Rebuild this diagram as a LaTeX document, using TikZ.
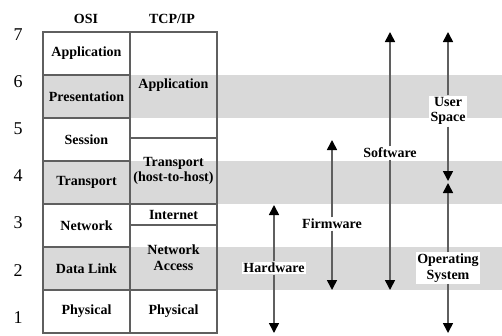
\documentclass[tikz,border=0pt]{standalone}
\usepackage{fontspec}
\setmainfont{Liberation Serif}
\usetikzlibrary{arrows.meta,positioning}
\definecolor{bandgray}{RGB}{217,217,217}
\definecolor{rulegray}{RGB}{95,95,95}

\begin{document}
\begin{tikzpicture}[x=1pt,y=-1pt,
	layer/.style={draw=rulegray,line width=1.5pt,minimum width=87pt,inner sep=0pt,
		align=center,font=\fontsize{14}{15.5}\selectfont\bfseries},
	tag/.style={fill=white,inner sep=1.5pt,align=center,
		font=\fontsize{14}{15.5}\selectfont\bfseries},
	span/.style={draw=rulegray,line width=1.6pt,
		-{Triangle[width=10pt,length=10pt,color=black]}}]

\useasboundingbox (0,0) rectangle (502,335);

% shaded rows 2, 4 and 6
\foreach \y in {75,161,247}
	\fill[bandgray] (43,\y) rectangle (502,\y+43);

\node[font=\fontsize{14}{15.5}\selectfont\bfseries] (osihead) at (86,19) {OSI};
\node[font=\fontsize{14}{15.5}\selectfont\bfseries] (tcphead) at (172,19) {TCP/IP};

\node[layer,minimum height=43pt]	(osi7) at (86.5,53.5)	{Application};
\node[layer,minimum height=43pt]	(osi6) at (86.5,96.5)	{Presentation};
\node[layer,minimum height=43pt]	(osi5) at (86.5,139.5)	{Session};
\node[layer,minimum height=43pt]	(osi4) at (86.5,182.5)	{Transport};
\node[layer,minimum height=43pt]	(osi3) at (86.5,225.5)	{Network};
\node[layer,minimum height=43pt]	(osi2) at (86.5,268.5)	{Data Link};
\node[layer,minimum height=43pt]	(osi1) at (86.5,311.5)	{Physical};

\node[layer,minimum height=106pt]	(tcpapp) at (173.5,85)		{Application};
\node[layer,minimum height=66pt]	(tcptrans) at (173.5,171)	{Transport\\(host-to-host)};
\node[layer,minimum height=21pt]	(tcpnet) at (173.5,214.5)	{Internet};
\node[layer,minimum height=65pt]	(tcpacc) at (173.5,257.5)	{Network\\Access};
\node[layer,minimum height=43pt]	(tcpphy) at (173.5,311.5)	{Physical};

\foreach \n/\y in {7/35,6/82,5/129,4/176,3/223,2/271,1/318}
	\node[font=\fontsize{18}{18}\selectfont] (num\n) at (18,\y) {\n};

\coordinate (hwtop) at (274,205);
\coordinate (hwbot) at (274,333);
\coordinate (fwtop) at (332,140);
\coordinate (fwbot) at (332,290);
\coordinate (swtop) at (390,32);
\coordinate (swbot) at (390,290);
\coordinate (ustop) at (448,32);
\coordinate (usbot) at (448,181);
\coordinate (ostop) at (448,183);
\coordinate (osbot) at (448,333);

\node[tag] (hw) at (274,268) {Hardware};
\node[tag] (fw) at (332,224) {Firmware};
\node[tag] (sw) at (390,153) {Software};
\node[tag] (us) at (448,111) {User\\Space};
\node[tag] (os) at (448,268) {Operating\\System};

\foreach \f/\t in {% label/arrow end
	 hw/hwtop,
	 hw/hwbot,
	 fw/fwtop,
	 fw/fwbot,
	 sw/swtop,
	 sw/swbot,
	 us/ustop,
	 us/usbot,
	 os/ostop,
	 os/osbot}
	\draw[span] (\f) -- (\t);

\end{tikzpicture}
\end{document}
